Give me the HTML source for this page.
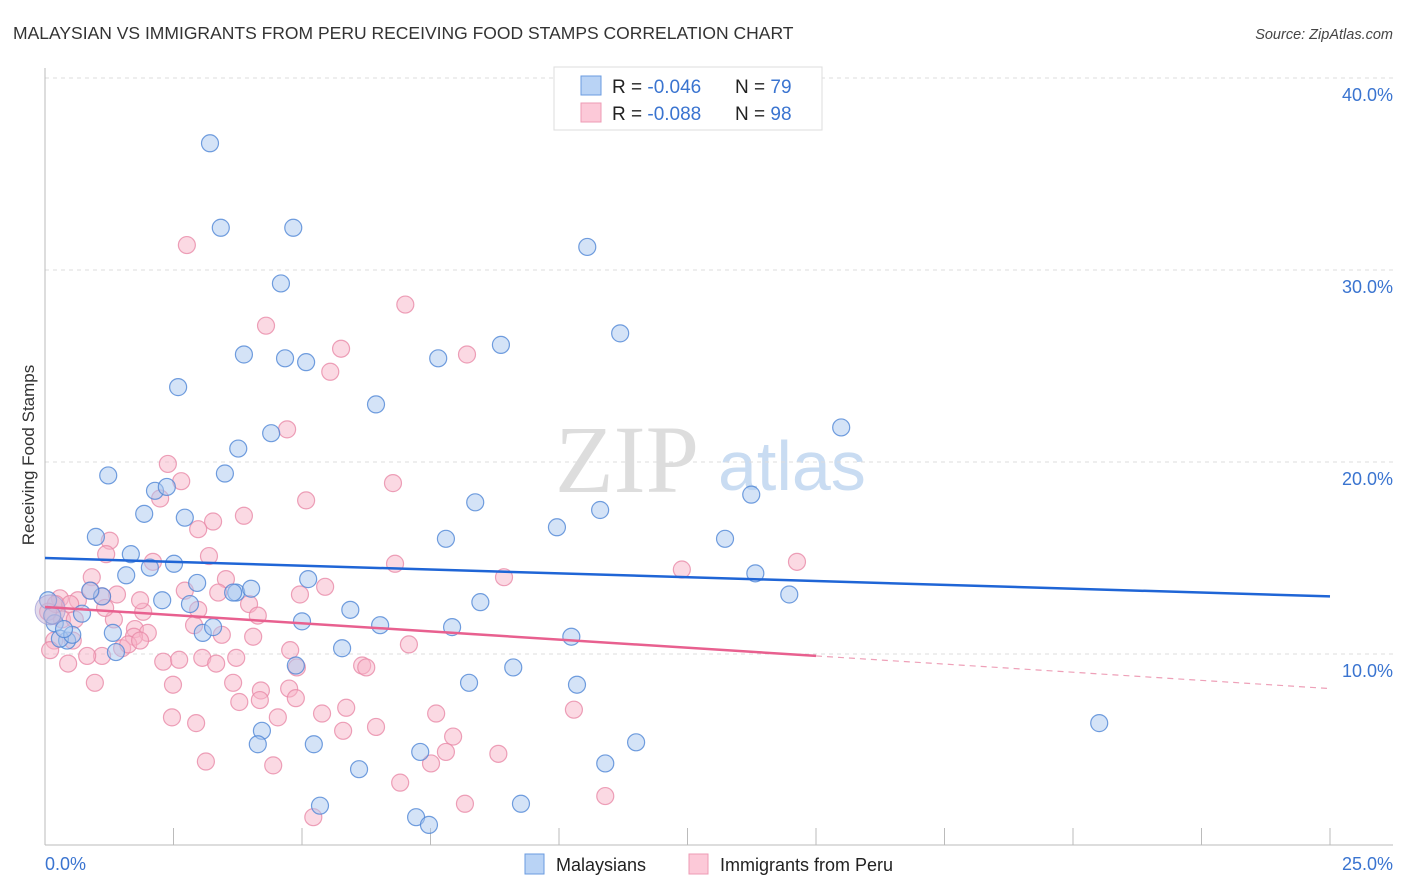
<!DOCTYPE html>
<html><head><meta charset="utf-8"><style>
body{margin:0;background:#fff;font-family:"Liberation Sans",sans-serif;}
svg{display:block}
</style></head><body>
<svg id="chart" width="1406" height="892" viewBox="0 0 1406 892" xmlns="http://www.w3.org/2000/svg">
<text x="13" y="39" font-size="17.5" fill="#333">MALAYSIAN VS IMMIGRANTS FROM PERU RECEIVING FOOD STAMPS CORRELATION CHART</text>
<text x="1393" y="39" font-size="14.5" fill="#444" font-style="italic" text-anchor="end">Source: ZipAtlas.com</text>
<g>
<text x="555" y="492" font-size="96" font-family="Liberation Serif,serif" fill="#ddd">ZIP</text>
<text x="718" y="490" font-size="70" fill="#c9dcf2">atlas</text>
</g>
<g id="grid"></g>
<g id="axes"></g>
<g id="pts"></g>
<g id="trends"></g>
<text transform="translate(34,455) rotate(-90)" font-size="17" fill="#333" text-anchor="middle">Receiving Food Stamps</text>
<g>
<rect x="554" y="67" width="268" height="63" fill="#fff" stroke="#ddd"/>
<rect x="581" y="76" width="20" height="19" fill="#b9d3f5" stroke="#6a9be0"/>
<rect x="581" y="103" width="20" height="19" fill="#fcc9d8" stroke="#ee9bb5"/>
<text x="612" y="93" font-size="19" fill="#222">R = <tspan fill="#3a74d0">-0.046</tspan><tspan x="735">N = </tspan><tspan fill="#3a74d0">79</tspan></text>
<text x="612" y="120" font-size="19" fill="#222">R = <tspan fill="#3a74d0">-0.088</tspan><tspan x="735">N = </tspan><tspan fill="#3a74d0">98</tspan></text>
</g>
<g>
<rect x="525" y="854" width="19" height="20" fill="#b9d3f5" stroke="#6a9be0"/>
<text x="556" y="871" font-size="18" fill="#222">Malaysians</text>
<rect x="689" y="854" width="19" height="20" fill="#fcc9d8" stroke="#ee9bb5"/>
<text x="720" y="871" font-size="18" fill="#222">Immigrants from Peru</text>
</g>
</svg>
<script>
const xTicks=[0,2.5,5,7.5,10,12.5,15,17.5,20,22.5,25];
const yTicks=[10,20,30,40];
const yTickLabels=["10.0%","20.0%","30.0%","40.0%"];
const xEndLabels=["0.0%","25.0%"];
const blueX=[3.21,3.42,4.83,10.55,4.59,11.19,3.87,4.67,5.08,7.65,8.87,2.59,6.44,15.49,3.76,4.40,1.23,3.50,2.14,2.37,8.37,1.93,2.72,9.96,10.80,13.74,0.99,1.67,2.04,2.51,7.80,13.23,1.58,2.96,13.82,5.12,3.72,4.01,1.11,2.28,2.82,3.66,8.47,14.48,5.94,0.72,5.00,6.52,7.92,10.24,3.07,3.27,0.19,0.14,0.43,0.29,0.53,1.38,5.78,9.11,4.88,8.25,10.35,20.51,4.22,4.14,5.23,7.30,11.50,6.11,10.90,5.35,9.26,7.22,7.47,0.37,0.88,0.06,1.32];
const blueY=[36.6,32.2,32.2,31.2,29.3,26.7,25.6,25.4,25.2,25.4,26.1,23.9,23.0,21.8,20.7,21.5,19.3,19.4,18.5,18.7,17.9,17.3,17.1,16.6,17.5,18.3,16.1,15.2,14.5,14.7,16.0,16.0,14.1,13.7,14.2,13.9,13.2,13.4,13.0,12.8,12.6,13.2,12.7,13.1,12.3,12.1,11.7,11.5,11.4,10.9,11.1,11.4,11.6,12.0,10.7,10.8,11.0,10.1,10.3,9.3,9.4,8.5,8.4,6.4,6.0,5.3,5.3,4.9,5.4,4.0,4.3,2.1,2.2,1.5,1.1,11.3,13.3,12.8,11.1];
const pinkX=[2.76,7.01,4.30,5.76,8.21,5.55,4.71,2.39,6.77,2.65,5.08,2.24,3.87,3.27,2.98,1.26,1.19,3.19,2.10,6.81,12.39,14.63,0.91,8.93,3.52,0.89,2.72,3.37,5.45,0.29,0.64,1.40,1.11,3.97,1.91,4.14,2.90,0.33,0.58,1.34,1.75,2.00,3.44,4.05,1.73,0.54,0.18,7.08,1.50,1.11,0.82,0.45,2.30,3.06,2.61,3.72,3.33,6.17,6.25,4.90,0.97,2.49,3.66,4.20,4.75,3.78,4.88,5.39,5.86,7.61,10.29,2.47,2.94,4.53,5.80,6.44,7.94,7.80,8.82,3.13,4.44,7.51,6.91,10.90,8.17,5.22,0.21,0.06,1.62,1.85,4.77,2.98,4.96,4.18,1.85,0.49,0.10,1.17];
const pinkY=[31.3,28.2,27.1,25.9,25.6,24.7,21.7,19.9,18.9,19.0,18.0,18.1,17.2,16.9,16.5,15.9,15.2,15.1,14.8,14.7,14.4,14.8,14.0,14.0,13.9,13.3,13.3,13.2,13.5,12.9,12.8,13.1,13.0,12.6,12.2,12.0,11.5,11.8,11.8,11.8,11.3,11.1,11.0,10.9,10.9,10.7,10.7,10.5,10.3,9.9,9.9,9.5,9.6,9.8,9.7,9.8,9.5,9.4,9.3,9.3,8.5,8.4,8.5,8.1,8.2,7.5,7.7,6.9,7.2,6.9,7.1,6.7,6.4,6.7,6.0,6.2,5.7,4.9,4.8,4.4,4.2,4.3,3.3,2.6,2.2,1.5,12.6,12.2,10.5,10.7,10.2,12.3,13.1,7.6,12.8,12.6,10.2,12.4];
const blueTrend=[[0,15.0],[25,13.0]];
const pinkTrendSolid=[[0,12.45],[15,9.9]];
const pinkTrendDash=[[15,9.9],[25,8.2]];
const NS="http://www.w3.org/2000/svg";
const X0=45,X1=1330,Y0=846,PPY=19.2;
function sx(v){return X0+(X1-X0)*v/25;}
function sy(v){return Y0-v*PPY;}
function mk(tag,attrs,parent){const e=document.createElementNS(NS,tag);for(const k in attrs)e.setAttribute(k,attrs[k]);parent.appendChild(e);return e;}
const grid=document.getElementById('grid'),axes=document.getElementById('axes'),pts=document.getElementById('pts'),tr=document.getElementById('trends');
yTicks.forEach((t,i)=>{
 const l=mk('line',{x1:X0,x2:1393,y1:sy(t),y2:sy(t),stroke:'#ddd','stroke-dasharray':'4,4'},grid);
 
 
 const tx=mk('text',{x:1393,y:sy(t)+23,'font-size':18,fill:'#3a74d0','text-anchor':'end'},axes);
 tx.textContent=yTickLabels[i];
 
 
});
const ax=mk('line',{x1:X0,x2:1393,y1:845,y2:845,stroke:'#bbb'},axes);


const ay=mk('line',{x1:X0,x2:X0,y1:68,y2:845,stroke:'#bbb'},axes);


xTicks.forEach(t=>{const l=mk('line',{x1:sx(t),x2:sx(t),y1:828,y2:845,stroke:'#bbb'},axes);
 
 });
const xl0=mk('text',{x:X0,y:870,'font-size':18,fill:'#3a74d0'},axes);xl0.textContent=xEndLabels[0];


const xl1=mk('text',{x:1393,y:870,'font-size':18,fill:'#3a74d0','text-anchor':'end'},axes);xl1.textContent=xEndLabels[1];


function dots(xs,ys,fill,stroke,name){xs.forEach((v,i)=>{
 const c=mk('circle',{cx:sx(v),cy:sy(ys[i]),r:8.5,fill:fill,'fill-opacity':0.5,stroke:stroke,'stroke-opacity':0.8,'stroke-width':1.2},pts);
 
 });}
dots(pinkX,pinkY,'#f7b3c8','#e88aa8','peru-point');
dots(blueX,blueY,'#a9c8f0','#4f86d6','malaysian-point');
const big=mk('circle',{cx:sx(0.1),cy:sy(12.3),r:15,fill:'#c7b3d6','fill-opacity':0.5,stroke:'#9a9ad6','stroke-opacity':0.7},pts);


function line(p,stroke,w,dash,name){const l=mk('line',{x1:sx(p[0][0]),y1:sy(p[0][1]),x2:sx(p[1][0]),y2:sy(p[1][1]),stroke:stroke,'stroke-width':w},tr);
 if(dash)l.setAttribute('stroke-dasharray',dash);
 
 }
line(blueTrend,'#1f65d6',2.5,null,'malaysian-trend-line');
line(pinkTrendSolid,'#e8608f',2.5,null,'peru-trend-line');
line(pinkTrendDash,'#eea0b8',1.2,'6,5','peru-trend-extension');
</script>
</body></html>
